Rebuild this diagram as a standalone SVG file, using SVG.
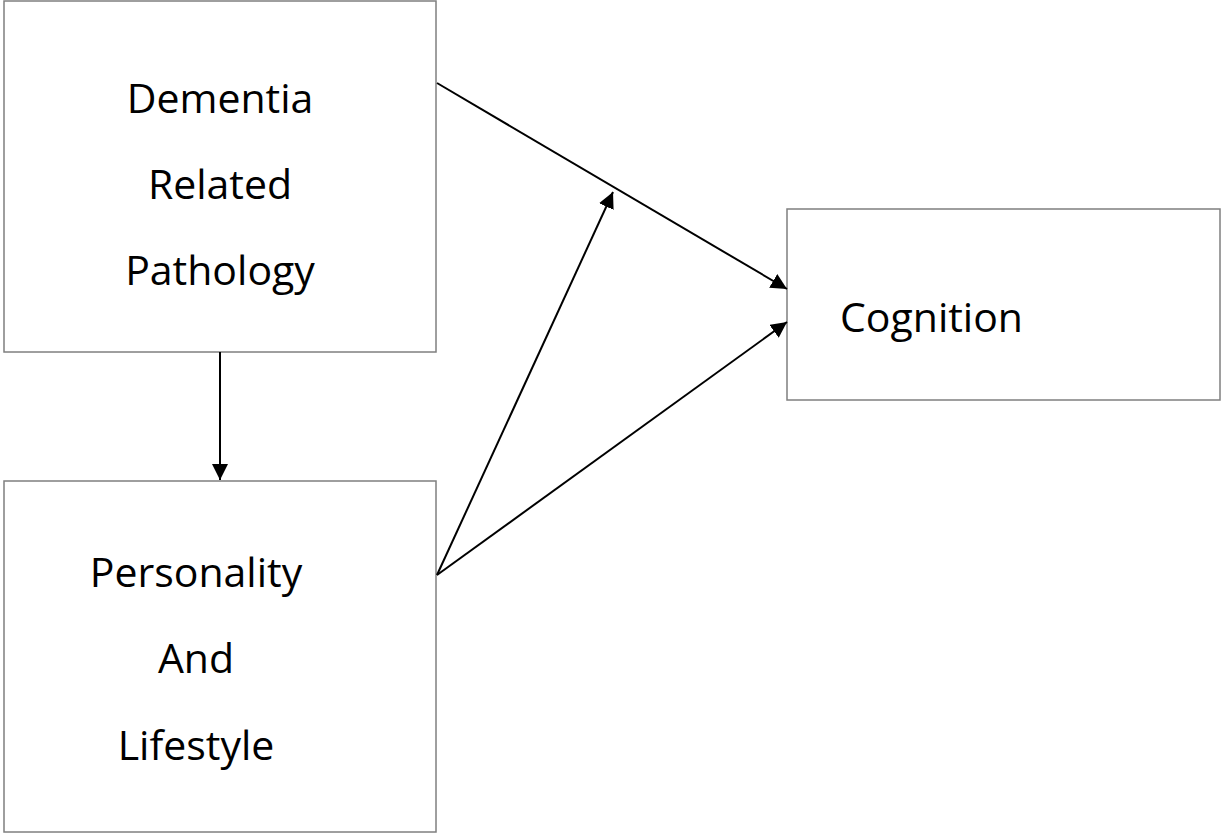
<svg xmlns="http://www.w3.org/2000/svg" width="1223" height="834" viewBox="0 0 1223 834">
<style>
.box{fill:#fff;stroke:#7f7f7f;stroke-width:1.5}
.lbl{font-family:"Open Sans","Liberation Sans",sans-serif;font-size:41px;fill:#000;text-anchor:middle}
.lblL{font-family:"Open Sans","Liberation Sans",sans-serif;font-size:41px;fill:#000}
.conn{stroke:#000;stroke-width:2;fill:none;marker-end:url(#ah)}
</style>
<defs>
<marker id="ah" markerUnits="userSpaceOnUse" markerWidth="16" markerHeight="16" viewBox="0 0 16 16" refX="16" refY="8" orient="auto">
<path d="M0,0 L16,8 L0,16 Z" fill="#000"/>
</marker>
</defs>
<rect width="1223" height="834" fill="#fff"/>
<g id="node-dementia">
<rect class="box" x="4" y="1" width="432" height="351"/>
<text class="lbl" x="220" y="113">Dementia</text>
<text class="lbl" x="220" y="199">Related</text>
<text class="lbl" x="220" y="285">Pathology</text>
</g>
<g id="node-personality">
<rect class="box" x="4" y="481" width="432" height="351"/>
<text class="lbl" x="196" y="587">Personality</text>
<text class="lbl" x="196" y="673">And</text>
<text class="lbl" x="196" y="760">Lifestyle</text>
</g>
<g id="node-cognition">
<rect class="box" x="787" y="209" width="433" height="191"/>
<text class="lblL" x="840" y="332">Cognition</text>
</g>
<g id="connectors">
<line class="conn" x1="220" y1="352" x2="220" y2="480"/>
<line class="conn" x1="437" y1="83" x2="787" y2="289"/>
<line class="conn" x1="437" y1="575" x2="787" y2="322"/>
<line class="conn" x1="437" y1="575" x2="613" y2="192"/>
</g>
</svg>
